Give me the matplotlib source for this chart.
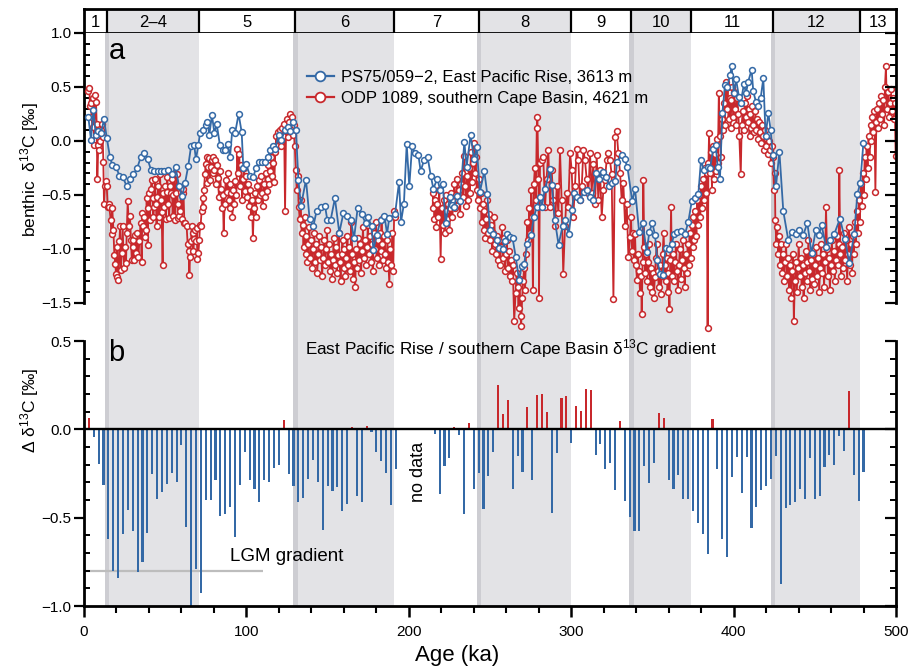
import numpy as np
import matplotlib
matplotlib.use('Agg')
import matplotlib.pyplot as plt
from matplotlib.ticker import FixedLocator, FuncFormatter

plt.rcParams['font.family'] = ['Liberation Sans', 'DejaVu Sans']
plt.rcParams['mathtext.fontset'] = 'custom'
plt.rcParams['mathtext.rm'] = 'Liberation Sans'
plt.rcParams['mathtext.it'] = 'Liberation Sans:italic'

# Marine isotope stages (boundaries in ka)
stage_bounds = [0, 14, 71, 130, 191, 243, 300, 337, 374, 424, 478, 500]
stage_labels = ['1', '2\u20134', '5', '6', '7', '8', '9', '10', '11', '12', '13']
glacial_stages = ['2\u20134', '6', '8', '10', '12']

# PS75/059-2, East Pacific Rise (blue)
blue_age = [2.7, 4.3, 5.8, 7.2, 8.8, 10.5, 12.3, 14.0, 16.0, 17.4,
            19.7, 21.8, 23.8, 26.3, 28.3, 30.4, 32.8, 34.9, 36.9, 39.2,
            41.3, 43.3, 45.4, 47.4, 49.5, 51.5, 54.4, 56.4, 58.5, 60.5,
            62.2, 64.2, 65.9, 67.9, 68.9, 70.4, 71.4, 73.1, 74.9, 75.9,
            77.2, 78.8, 80.3, 81.7, 83.7, 85.4, 86.8, 88.5, 89.9, 91.3,
            93.0, 95.2, 97.1, 98.1, 99.7, 102.2, 104.3, 105.9, 107.8, 109.8,
            111.7, 113.5, 114.5, 116.6, 117.8, 119.9, 121.5, 123.8, 125.6, 126.8,
            128.5, 130.5, 132.0, 133.6, 136.7, 138.9, 141.2, 143.2, 145.7, 148.4,
            149.8, 151.9, 154.5, 157.2, 159.7, 161.7, 164.2, 166.3, 168.5, 171.0,
            173.4, 174.7, 177.1, 178.2, 180.2, 182.7, 185.0, 186.6, 188.0, 191.5,
            194.0, 195.2, 197.0, 198.7, 200.3, 202.0, 203.8, 205.9, 207.3, 209.3,
            211.6, 213.5, 215.1, 217.6, 219.2, 220.9, 222.7, 225.3, 226.4, 227.8,
            229.5, 231.5, 234.2, 235.6, 238.1, 240.1, 241.8, 243.8, 246.5, 248.3,
            250.0, 252.0, 254.1, 255.5, 257.8, 259.2, 260.6, 262.3, 263.9, 265.8,
            267.9, 269.5, 271.0, 273.0, 275.3, 277.1, 278.8, 280.8, 281.9, 283.9,
            287.0, 288.1, 289.9, 292.2, 294.7, 296.3, 298.4, 300.4, 301.8, 303.5,
            305.5, 307.6, 309.7, 311.8, 313.4, 315.5, 317.1, 319.4, 321.4, 323.5,
            325.1, 327.2, 328.2, 331.3, 332.9, 334.6, 337.6, 339.3, 341.8, 344.0,
            346.5, 348.1, 350.0, 351.6, 353.0, 354.7, 356.3, 358.2, 360.2, 361.9,
            363.5, 365.4, 367.6, 370.1, 372.1, 374.2, 376.2, 378.3, 379.9, 381.8,
            384.0, 385.5, 387.5, 389.0, 390.2, 391.6, 393.1, 394.7, 396.1, 397.8,
            398.8, 400.2, 401.5, 403.3, 404.3, 406.4, 407.6, 409.0, 411.1, 412.1,
            413.8, 415.2, 416.7, 418.3, 419.7, 421.4, 422.8, 424.1, 426.1, 428.2,
            430.6, 433.7, 435.8, 438.2, 440.3, 442.9, 445.4, 448.0, 450.7, 452.6,
            454.2, 456.9, 459.3, 462.0, 465.5, 468.6, 471.2, 474.3, 476.2, 478.0,
            479.9]
blue_d13c = [0.22, 0.01, 0.29, 0.06, 0.09, 0.07, 0.20, 0.03, -0.15, -0.22,
             -0.24, -0.32, -0.33, -0.42, -0.35, -0.31, -0.25, -0.15, -0.11, -0.17,
             -0.27, -0.28, -0.28, -0.28, -0.28, -0.27, -0.31, -0.24, -0.42, -0.51,
             -0.39, -0.23, -0.05, -0.04, -0.17, -0.04, 0.07, 0.10, 0.15, 0.18,
             0.06, 0.24, 0.07, 0.16, -0.04, -0.08, -0.08, -0.03, -0.15, 0.10,
             0.07, 0.25, 0.08, -0.25, -0.21, -0.32, -0.33, -0.25, -0.19, -0.19,
             -0.19, -0.15, -0.08, -0.05, -0.07, 0.06, 0.01, 0.10, 0.13, 0.09,
             0.18, 0.10, -0.36, -0.60, -0.36, -0.72, -0.79, -0.65, -0.61, -0.60,
             -0.73, -0.73, -0.53, -0.85, -0.67, -0.69, -0.73, -0.90, -0.62, -0.68,
             -0.76, -0.70, -0.79, -1.01, -0.87, -0.73, -0.69, -0.86, -0.71, -0.68,
             -0.38, -0.75, -0.58, -0.03, -0.42, -0.05, -0.11, -0.13, -0.28, -0.18,
             -0.15, -0.32, -0.44, -0.35, -0.45, -0.40, -0.76, -0.52, -0.59, -0.61,
             -0.51, -0.56, -0.01, -0.24, 0.06, -0.17, -0.06, -0.47, -0.28, -0.49,
             -0.82, -0.86, -0.92, -0.99, -1.00, -0.93, -0.86, -0.89, -0.90, -1.07,
             -1.29, -1.16, -1.14, -0.95, -0.87, -0.70, -0.61, -0.52, -0.61, -0.44,
             -0.26, -0.41, -0.73, -0.96, -0.79, -0.73, -0.86, -0.64, -0.48, -0.52,
             -0.55, -0.47, -0.45, -0.52, -0.55, -0.30, -0.35, -0.29, -0.33, -0.42,
             -0.39, -0.37, -0.19, -0.13, -0.17, -0.24, -0.56, -0.44, -0.84, -0.76,
             -1.03, -0.84, -0.76, -0.87, -1.10, -1.23, -1.24, -0.99, -1.00, -0.95,
             -0.86, -0.84, -0.83, -0.86, -0.75, -0.56, -0.53, -0.49, -0.18, -0.27,
             -0.24, -0.25, -0.07, -0.04, -0.24, -0.35, 0.26, 0.52, 0.50, 0.61,
             0.69, 0.44, 0.57, 0.41, 0.35, 0.53, 0.44, 0.55, 0.66, 0.46,
             0.36, 0.32, 0.40, 0.58, 0.05, 0.26, 0.10, -0.13, -0.42, -0.10,
             -0.65, -0.92, -0.84, -0.86, -0.82, -0.87, -0.76, -1.04, -0.82, -0.87,
             -0.78, -0.98, -0.92, -0.86, -0.72, -0.91, -1.13, -0.86, -0.49, -0.39,
             -0.02]

# ODP 1089, southern Cape Basin (red)
red_age = [2.7, 3.3, 3.7, 4.1, 4.7, 5.3, 5.8, 6.2, 6.8, 7.4,
           7.8, 8.2, 8.8, 9.4, 9.9, 10.4, 10.9, 11.5, 11.9, 12.3,
           12.9, 13.3, 14.0, 14.6, 15.2, 15.6, 16.4, 17.0, 17.4, 18.1,
           18.7, 19.3, 19.7, 20.1, 20.5, 21.1, 21.8, 22.2, 22.6, 23.2,
           23.8, 24.6, 25.2, 25.9, 26.3, 26.9, 27.7, 28.3, 28.9, 29.4,
           30.0, 30.4, 31.0, 31.4, 32.0, 32.8, 33.5, 34.1, 34.9, 35.5,
           35.9, 36.5, 37.2, 37.6, 38.2, 38.6, 39.2, 39.6, 40.2, 40.6,
           41.1, 41.7, 42.3, 42.7, 43.1, 43.7, 44.3, 44.7, 45.2, 45.8,
           46.4, 46.8, 47.4, 47.8, 48.4, 48.9, 49.5, 49.9, 50.5, 50.9,
           51.3, 51.9, 52.5, 52.9, 53.4, 54.0, 54.6, 55.0, 55.6, 56.2,
           56.6, 57.1, 57.7, 58.1, 58.7, 59.1, 59.7, 60.3, 60.7, 61.2,
           61.8, 62.4, 63.2, 63.8, 64.4, 64.9, 65.3, 65.9, 66.3, 66.9,
           67.3, 67.9, 68.6, 69.0, 69.4, 69.8, 70.4, 71.0, 71.4, 71.8,
           72.4, 73.1, 73.5, 73.9, 74.5, 74.9, 75.5, 75.9, 76.6, 77.2,
           77.6, 78.2, 78.6, 79.2, 79.6, 80.3, 80.7, 81.3, 81.9, 82.5,
           83.1, 83.7, 84.3, 84.9, 85.5, 86.0, 86.6, 87.2, 87.8, 88.4,
           89.0, 89.6, 90.2, 90.8, 91.4, 92.0, 92.6, 93.2, 93.8, 94.4,
           95.0, 95.6, 96.2, 96.8, 97.4, 98.0, 98.6, 99.2, 99.8, 100.4,
           101.0, 101.6, 102.2, 102.8, 103.4, 104.0, 104.6, 105.2, 105.8, 106.4,
           107.0, 107.6, 108.2, 108.8, 109.4, 110.0, 110.6, 111.2, 111.8, 112.4,
           113.0, 113.6, 114.2, 114.8, 115.4, 116.0, 116.6, 117.2, 117.8, 118.4,
           119.0, 119.6, 120.2, 120.8, 121.4, 122.0, 122.6, 123.2, 123.8, 124.4,
           125.0, 125.6, 126.2, 126.8, 127.4, 128.0, 128.6, 129.2, 129.8, 130.4,
           131.0, 131.6, 132.2, 132.8, 133.4, 134.0, 134.6, 135.2, 135.8, 136.4,
           137.0, 137.6, 138.2, 138.8, 139.4, 140.0, 140.6, 141.2, 141.8, 142.4,
           143.0, 143.6, 144.2, 144.8, 145.4, 146.0, 146.6, 147.2, 147.8, 148.4,
           149.0, 149.6, 150.2, 150.8, 151.4, 152.0, 152.6, 153.2, 153.8, 154.4,
           155.0, 155.6, 156.2, 156.8, 157.4, 158.0, 158.6, 159.2, 159.8, 160.4,
           161.0, 161.6, 162.2, 162.8, 163.4, 164.0, 164.6, 165.2, 165.8, 166.4,
           167.0, 167.6, 168.2, 168.8, 169.4, 170.0, 170.6, 171.2, 171.8, 172.4,
           173.0, 173.6, 174.2, 174.8, 175.4, 176.0, 176.6, 177.2, 177.8, 178.4,
           179.0, 179.6, 180.2, 180.8, 181.4, 182.0, 182.6, 183.2, 183.8, 184.4,
           185.0, 185.6, 186.2, 186.8, 187.4, 188.0, 188.6, 189.2, 189.8, 190.4,
           191.0, 191.6, 214.6, 215.2, 215.8, 216.4, 217.0, 217.6, 218.2, 218.8,
           219.6, 220.2, 220.8, 221.4, 222.0, 222.6, 223.2, 223.8, 224.4, 225.0,
           225.6, 226.2, 226.8, 227.4, 228.0, 228.6, 229.2, 229.8, 230.4, 231.0,
           231.6, 232.2, 232.8, 233.4, 234.0, 234.6, 235.2, 235.8, 236.4, 237.0,
           237.6, 238.2, 238.8, 239.4, 240.0, 240.6, 241.2, 241.8, 242.4, 243.0,
           243.6, 244.2, 244.8, 245.4, 246.0, 246.6, 247.2, 247.8, 248.4, 249.0,
           249.6, 250.2, 250.8, 251.4, 252.0, 252.6, 253.2, 253.8, 254.4, 255.0,
           255.6, 256.2, 256.8, 257.4, 258.0, 258.6, 259.2, 259.8, 260.4, 261.0,
           261.6, 262.2, 262.8, 263.4, 264.0, 264.9, 265.8, 266.4, 267.0, 267.6,
           268.2, 268.8, 269.2, 269.8, 270.4, 271.0, 271.6, 272.2, 273.0, 273.6,
           274.2, 274.8, 275.4, 276.0, 276.4, 277.0, 277.6, 278.2, 278.8, 279.2,
           279.8, 280.2, 280.8, 281.8, 282.8, 283.9, 284.9, 285.9, 287.0, 288.0,
           289.0, 290.0, 291.1, 292.1, 293.1, 294.1, 295.1, 296.2, 297.2, 298.2,
           299.3, 300.3, 301.3, 302.3, 303.4, 304.4, 305.4, 306.5, 307.5, 308.5,
           309.5, 310.6, 311.6, 312.6, 313.6, 314.7, 315.7, 316.7, 317.7, 318.8,
           319.8, 320.8, 321.8, 322.9, 323.9, 324.9, 326.0, 327.0, 328.0, 329.0,
           330.1, 331.1, 332.1, 333.2, 334.2, 335.2, 336.2, 336.8, 337.4, 338.0,
           338.6, 339.3, 339.9, 340.5, 341.1, 341.7, 342.4, 343.0, 343.4, 344.0,
           344.4, 345.0, 345.5, 346.1, 346.7, 347.3, 347.9, 348.5, 349.1, 349.7,
           350.3, 350.9, 351.5, 352.1, 352.7, 353.3, 353.9, 354.5, 355.1, 355.7,
           356.3, 356.9, 357.5, 358.1, 358.7, 359.3, 359.9, 360.5, 361.0, 361.5,
           362.1, 362.7, 363.3, 363.9, 364.5, 365.1, 365.7, 366.3, 366.9, 367.5,
           368.1, 368.7, 369.3, 369.9, 370.5, 371.1, 371.7, 372.3, 372.9, 373.5,
           374.1, 374.7, 375.3, 375.9, 376.5, 377.1, 377.7, 378.3, 378.9, 379.5,
           380.1, 380.7, 381.3, 381.9, 382.5, 383.1, 383.5, 384.0, 384.5, 384.9,
           385.5, 386.1, 386.7, 387.3, 387.9, 388.5, 389.1, 389.7, 390.3, 390.9,
           391.5, 392.1, 392.7, 393.3, 393.9, 394.5, 395.1, 395.7, 396.3, 396.9,
           397.5, 398.1, 398.7, 399.3, 399.9, 400.5, 401.1, 401.7, 402.3, 402.9,
           403.5, 404.4, 405.0, 405.6, 406.2, 406.8, 407.4, 408.0, 408.6, 409.2,
           409.8, 410.4, 411.0, 411.6, 412.2, 412.8, 413.4, 414.0, 414.6, 415.2,
           415.8, 416.4, 417.0, 417.6, 418.2, 418.8, 419.4, 420.0, 420.6, 421.2,
           421.8, 422.4, 423.0, 423.6, 424.2, 424.8, 425.4, 425.7, 426.3, 426.9,
           427.5, 428.1, 428.7, 429.3, 429.9, 430.5, 431.1, 431.7, 432.3, 432.9,
           433.5, 434.1, 434.7, 435.3, 435.9, 436.5, 437.1, 437.7, 438.3, 438.9,
           439.5, 440.1, 440.7, 441.3, 441.9, 442.5, 443.1, 443.7, 444.3, 444.9,
           445.5, 446.1, 446.7, 447.3, 447.9, 448.5, 449.1, 449.7, 450.3, 450.9,
           451.5, 452.1, 452.7, 453.3, 453.9, 454.5, 455.1, 455.7, 456.3, 456.9,
           457.5, 458.1, 458.7, 459.3, 459.9, 460.5, 461.1, 461.7, 462.3, 462.9,
           463.5, 464.1, 464.7, 465.1, 465.7, 466.3, 466.9, 467.5, 468.1, 468.7,
           469.3, 469.9, 470.5, 471.1, 471.7, 472.3, 472.9, 473.5, 474.1, 474.7,
           475.3, 475.9, 476.5, 477.1, 477.7, 478.3, 478.9, 479.5, 480.1, 480.7,
           481.3, 481.9, 482.5, 483.1, 483.7, 484.3, 484.9, 485.5, 486.1, 486.7,
           487.3, 487.9, 488.5, 489.1, 489.7, 490.3, 490.9, 491.5, 492.1, 492.7,
           493.2, 493.8, 494.4, 495.0, 495.6, 496.2, 496.8, 497.4, 498.0, 498.6,
           499.2, 499.8]
red_d13c = [0.46, 0.49, 0.32, 0.35, 0.22, 0.13, 0.40, -0.04, 0.43, 0.36,
            0.16, -0.35, -0.04, -0.08, 0.00, 0.10, 0.16, 0.04, -0.19, -0.58,
            -0.42, -0.37, -0.42, -0.61, -0.58, -0.61, -0.73, -0.86, -0.62, -0.82,
            -1.06, -1.14, -1.23, -0.98, -1.26, -1.29, -0.93, -0.79, -1.19, -1.04,
            -0.79, -1.18, -0.98, -1.13, -0.85, -0.56, -0.79, -0.69, -0.92, -1.10,
            -0.98, -0.92, -1.10, -0.87, -1.04, -0.85, -1.07, -0.93, -0.76, -1.12,
            -0.67, -0.79, -0.70, -0.89, -0.82, -0.53, -0.96, -0.62, -0.48, -0.73,
            -0.44, -0.36, -0.53, -0.70, -0.61, -0.35, -0.58, -0.79, -0.52, -0.42,
            -0.70, -0.31, -0.55, -0.66, -1.15, -0.48, -0.61, -0.42, -0.72, -0.47,
            -0.33, -0.58, -0.71, -0.42, -0.48, -0.35, -0.69, -0.50, -0.31, -0.73,
            -0.48, -0.31, -0.58, -0.71, -0.69, -0.65, -0.47, -0.72, -0.48, -0.44,
            -0.76, -0.76, -0.79, -0.95, -1.02, -1.24, -1.07, -0.93, -0.79, -0.85,
            -1.02, -0.91, -0.82, -0.93, -0.81, -1.09, -1.04, -0.92, -0.78, -0.79,
            -0.65, -0.53, -0.61, -0.45, -0.31, -0.21, -0.15, -0.39, -0.24, -0.16,
            -0.36, -0.24, -0.18, -0.30, -0.15, -0.27, -0.18, -0.40, -0.22, -0.34,
            -0.52, -0.28, -0.44, -0.62, -0.50, -0.85, -0.58, -0.36, -0.47, -0.30,
            -0.55, -0.40, -0.62, -0.48, -0.70, -0.45, -0.58, -0.37, -0.50, -0.07,
            -0.30, -0.12, -0.42, -0.22, -0.55, -0.35, -0.25, -0.46, -0.32, -0.52,
            -0.40, -0.60, -0.45, -0.70, -0.55, -0.90, -0.62, -0.48, -0.70, -0.42,
            -0.55, -0.36, -0.50, -0.32, -0.48, -0.60, -0.40, -0.52, -0.30, -0.46,
            -0.35, -0.22, -0.40, -0.28, -0.15, -0.32, -0.20, -0.38, -0.10, 0.05,
            -0.05, 0.08, 0.02, 0.10, -0.05, 0.12, 0.05, 0.16, -0.65, 0.10,
            0.20, 0.04, 0.18, 0.25, 0.12, 0.22, 0.06, 0.15, -0.05, -0.27,
            -0.45, -0.32, -0.61, -0.72, -0.55, -0.85, -0.78, -0.98, -0.70, -1.05,
            -0.88, -1.12, -0.95, -0.80, -1.08, -0.92, -1.18, -1.00, -0.85, -1.12,
            -0.95, -1.22, -1.05, -0.88, -1.10, -0.98, -1.25, -1.08, -0.92, -1.15,
            -1.00, -0.82, -1.12, -0.95, -1.20, -1.05, -1.28, -1.10, -0.90, -1.15,
            -0.98, -1.22, -1.06, -0.85, -1.12, -1.30, -1.05, -0.92, -1.18, -1.00,
            -1.25, -1.08, -0.88, -1.15, -0.98, -1.20, -0.75, -1.05, -1.28, -1.12,
            -1.35, -1.00, -1.18, -0.90, -1.10, -0.95, -1.22, -1.02, -0.80, -1.08,
            -0.92, -1.15, -0.98, -0.78, -1.05, -0.88, -1.12, -0.95, -1.20, -0.85,
            -1.00, -0.75, -1.08, -0.92, -1.15, -0.85, -1.02, -0.72, -0.95, -1.10,
            -0.88, -1.05, -1.18, -0.92, -1.12, -1.32, -1.00, -1.15, -0.85, -1.20,
            -0.65, -0.70, -0.62, -0.48, -0.72, -0.55, -0.80, -0.58, -0.70, -0.45,
            -1.09, -0.62, -0.78, -0.55, -0.85, -0.65, -0.50, -0.72, -0.58, -0.82,
            -0.62, -0.48, -0.70, -0.56, -0.40, -0.62, -0.50, -0.35, -0.55, -0.45,
            -0.68, -0.40, -0.30, -0.52, -0.14, -0.42, -0.60, -0.32, -0.55, -0.25,
            -0.48, -0.10, -0.38, -0.20, -0.02, -0.30, -0.15, -0.45, -0.55, -0.35,
            -0.62, -0.48, -0.75, -0.58, -0.82, -0.65, -0.90, -0.72, -0.55, -0.85,
            -0.68, -0.92, -0.78, -1.02, -0.85, -0.70, -0.95, -1.05, -0.88, -1.10,
            -0.92, -1.15, -0.98, -0.80, -1.08, -0.90, -1.20, -1.05, -0.92, -1.18,
            -1.02, -1.25, -1.10, -1.30, -1.15, -1.67, -1.41, -1.22, -1.35, -1.55,
            -1.28, -1.62, -1.71, -1.45, -1.30, -1.18, -1.38, -1.05, -0.75, -0.92,
            -0.62, -0.85, -0.45, -0.70, -1.38, -0.40, -0.25, -0.55, 0.12, 0.22,
            -0.35, -1.45, -0.20, -0.18, -0.15, -0.61, -0.35, -0.08, -0.61, -0.27,
            -0.55, -0.79, -0.42, -0.67, -0.08, -0.55, -1.23, -0.79, -0.48, -0.61,
            -0.11, -0.27, -0.70, -0.42, -0.07, -0.18, -0.55, -0.42, -0.08, -0.18,
            -0.35, -0.48, -0.11, -0.48, -0.21, -0.58, -0.13, -0.55, -0.27, -0.70,
            -0.45, -0.36, -0.18, -0.11, -0.18, -0.31, -1.46, 0.04, 0.09, -0.11,
            -0.30, -0.55, -0.39, -0.79, -0.58, -1.07, -0.89, -0.70, -1.02, -0.85,
            -1.10, -0.86, -1.15, -1.29, -1.05, -1.20, -1.41, -1.25, -1.60, -1.12,
            -0.36, -0.98, -1.22, -1.05, -1.30, -1.12, -0.95, -1.35, -1.18, -1.40,
            -1.22, -1.45, -1.26, -1.08, -0.95, -1.20, -1.35, -1.15, -1.42, -1.25,
            -1.05, -0.85, -1.15, -1.30, -1.08, -1.40, -1.22, -1.56, -1.10, -0.61,
            -1.25, -1.05, -1.30, -1.12, -0.95, -1.20, -1.38, -1.15, -1.00, -1.28,
            -1.10, -0.92, -1.18, -1.35, -1.05, -1.22, -0.95, -1.15, -0.85, -1.08,
            -0.78, -0.98, -0.70, -0.92, -0.65, -0.88, -0.55, -0.78, -0.50, -0.70,
            -0.42, -0.62, -0.35, -0.55, -0.25, -0.48, -0.30, -1.73, -0.20, 0.07,
            -0.30, -0.10, -0.45, -0.05, -0.35, -0.12, -0.28, 0.02, -0.20, 0.44,
            0.05, -0.15, 0.20, 0.10, 0.35, 0.15, 0.55, 0.30, 0.50, 0.20,
            0.40, 0.12, 0.38, 0.50, 0.22, 0.45, 0.30, 0.15, 0.40, 0.25,
            0.05, -0.31, 0.15, 0.28, 0.10, 0.35, 0.22, 0.42, 0.18, 0.30,
            0.05, 0.25, 0.12, 0.32, 0.15, 0.08, 0.28, 0.10, 0.20, 0.02,
            0.18, 0.08, -0.02, 0.15, 0.05, -0.08, 0.10, -0.05, 0.02, -0.12,
            0.00, -0.08, -0.20, -0.05, -0.15, -0.45, -0.30, -0.73, -0.95, -0.80,
            -1.05, -0.88, -1.15, -0.95, -1.22, -1.05, -1.30, -1.12, -0.95, -1.25,
            -1.08, -1.38, -1.15, -1.45, -1.20, -1.05, -1.67, -1.30, -1.12, -1.40,
            -1.18, -0.95, -1.25, -1.08, -1.35, -1.15, -1.45, -1.22, -1.02, -1.30,
            -1.12, -0.92, -1.20, -1.38, -1.10, -1.28, -1.05, -1.32, -1.15, -0.98,
            -1.25, -1.08, -1.40, -1.18, -0.95, -1.22, -1.05, -1.35, -1.12, -0.61,
            -1.00, -1.25, -1.08, -1.38, -1.15, -0.92, -1.20, -1.02, -1.30, -1.10,
            -0.88, -1.15, -0.95, -0.27, -1.05, -1.25, -0.98, -1.18, -0.85, -1.10,
            -0.92, -1.30, -1.05, -0.80, -1.15, -0.95, -1.22, -0.88, -1.05, -0.75,
            -0.95, -0.65, -0.85, -0.55, -0.75, -0.40, -0.60, -0.30, -0.50, -0.15,
            -0.35, -0.05, -0.25, 0.05, -0.15, 0.15, 0.00, 0.22, 0.08, 0.28,
            -0.47, 0.18, 0.30, 0.12, 0.35, 0.20, 0.42, 0.25, 0.38, 0.15,
            0.50, 0.69, 0.30, 0.45, 0.22, 0.35, 0.48, 0.28, 0.40, 0.20,
            0.35, -0.14]
assert len(red_age) == len(red_d13c), (len(red_age), len(red_d13c))
assert len(blue_age) == len(blue_d13c), (len(blue_age), len(blue_d13c))

# East Pacific Rise minus Cape Basin gradient (3 ka bins)
grad_age = [3, 6, 9, 12, 15, 18, 21, 24, 27, 30, 33, 36, 39, 42, 45, 48, 51, 54, 57, 60,
            63, 66, 69, 72, 75, 78, 81, 84, 87, 90, 93, 96, 99, 102, 105, 108, 111, 114, 117, 120,
            123, 126, 129, 132, 135, 138, 141, 144, 147, 150, 153, 156, 159, 162, 165, 168, 171, 174, 177, 180,
            183, 186, 189, 192, 216, 219, 222, 225, 228, 231, 234, 237, 240, 243, 246, 249, 252, 255, 258, 261,
            264, 267, 270, 273, 276, 279, 282, 285, 288, 291, 294, 297, 300, 303, 306, 309, 312, 315, 318, 321,
            324, 327, 330, 333, 336, 339, 342, 345, 348, 351, 354, 357, 360, 363, 366, 369, 372, 375, 378, 381,
            384, 387, 390, 393, 396, 399, 402, 405, 408, 411, 414, 417, 420, 423, 426, 429, 432, 435, 438, 441,
            444, 447, 450, 453, 456, 459, 462, 465, 468, 471, 474, 477, 480]
grad_val = [0.066, -0.041, -0.196, -0.315, -0.62, -0.80, -0.84, -0.59, -0.456, -0.578,
            -0.81, -0.753, -0.588, -0.252, -0.394, -0.352, -0.309, -0.245, -0.296, -0.089,
            -0.55, -1.0, -0.79, -0.927, -0.40, -0.40, -0.286, -0.488, -0.48, -0.437,
            -0.61, -0.315, -0.126, -0.286, -0.337, -0.409, -0.286, -0.296, -0.22, -0.20,
            0.053, -0.252, -0.318, -0.409, -0.39, -0.279, -0.173, -0.296, -0.569, -0.318,
            -0.347, -0.328, -0.46, -0.42, 0.011, -0.375, -0.409, 0.019, -0.017, -0.13,
            -0.18, -0.245, -0.43, -0.222, -0.024, -0.365, -0.21, -0.16, 0.011, -0.032,
            -0.48, 0.034, -0.335, -0.245, -0.45, -0.262, -0.126, 0.25, 0.087, 0.166,
            -0.335, -0.149, -0.239, 0.124, -0.286, 0.194, 0.20, 0.098, -0.476, -0.132,
            0.177, 0.188, -0.075, 0.132, 0.104, 0.228, 0.222, -0.143, -0.081, -0.222,
            -0.19, -0.341, 0.047, -0.403, -0.499, -0.578, -0.578, -0.205, -0.301, -0.188,
            0.09, 0.064, -0.284, -0.335, -0.256, -0.397, -0.397, -0.465, -0.533, -0.595,
            -0.708, 0.058, -0.222, -0.618, -0.725, -0.267, -0.154, -0.358, -0.154, -0.561,
            -0.437, -0.341, -0.322, -0.279, -0.149, -0.878, -0.448, -0.431, -0.409, -0.335,
            -0.392, -0.16, -0.397, -0.375, -0.211, -0.143, -0.20, -0.036, -0.12, 0.217,
            -0.256, -0.403, -0.239]
assert len(grad_age) == len(grad_val), (len(grad_age), len(grad_val))
lgm_gradient = -0.80
lgm_span = (0, 110)

blue = '#3469a6'
red = '#c8282c'
shade = '#e3e3e6'
shade_dark = '#cdcdd2'

fig = plt.figure(figsize=(9.14, 6.66), dpi=100)
L, W = 84 / 914, 812 / 914
ax_s = fig.add_axes([L, 1 - 33 / 666, W, 24 / 666])
ax_a = fig.add_axes([L, 1 - 341 / 666, W, 308 / 666])
ax_b = fig.add_axes([L, 1 - 606 / 666, W, 265 / 666])

# stage bar
for lo, hi, lab in zip(stage_bounds[:-1], stage_bounds[1:], stage_labels):
    if lab in glacial_stages:
        ax_s.axvspan(lo, hi, color=shade, lw=0)
    ax_s.text((lo + hi) / 2, 0.45, lab, ha='center', va='center', fontsize=12)
for b in stage_bounds[1:-1]:
    ax_s.axvline(b, color='k', lw=1.6)
ax_s.set_xlim(0, 500)
ax_s.set_ylim(0, 1)
ax_s.set_xticks([])
ax_s.set_yticks([])
for sp in ax_s.spines.values():
    sp.set_linewidth(2)

# glacial shading in both panels
for ax in (ax_a, ax_b):
    for lo, hi, lab in zip(stage_bounds[:-1], stage_bounds[1:], stage_labels):
        if lab in glacial_stages:
            ax.axvspan(lo, hi, color=shade, lw=0, zorder=0)
            ax.axvspan(lo - 1.2, lo + 1.5, color=shade_dark, lw=0, zorder=0)
    ax.set_xlim(0, 500)


def fmt(x, pos):
    return ('%.1f' % x).replace('-', '\u2212')


def style_y(ax, lo, hi):
    ax.set_ylim(*ax.get_ylim())
    ax.yaxis.set_major_locator(FixedLocator(np.arange(lo, hi + 0.01, 0.5)))
    ax.yaxis.set_minor_locator(FixedLocator(np.arange(lo, hi + 0.01, 0.1)))
    ax.yaxis.set_major_formatter(FuncFormatter(fmt))
    ax.tick_params(axis='y', which='major', direction='out', length=7, width=1.6,
                   labelsize=11, pad=2)
    ax.tick_params(axis='y', which='minor', direction='in', length=4, width=1.4)
    ax.spines['left'].set_bounds(lo, hi)
    ax.spines['left'].set_linewidth(2)
    ax.spines['right'].set_visible(False)
    ax.spines['top'].set_visible(False)
    tw = ax.twinx()
    tw.set_ylim(ax.get_ylim())
    tw.yaxis.set_major_locator(FixedLocator(np.arange(lo, hi + 0.01, 0.5)))
    tw.yaxis.set_minor_locator(FixedLocator(np.arange(lo, hi + 0.01, 0.1)))
    tw.tick_params(axis='y', which='major', direction='in', length=8, width=1.6, labelright=False)
    tw.tick_params(axis='y', which='minor', direction='in', length=4, width=1.4)
    for k in ('left', 'top', 'bottom'):
        tw.spines[k].set_visible(False)
    tw.spines['right'].set_bounds(lo, hi)
    tw.spines['right'].set_linewidth(2)
    return tw


# panel a
red_age_arr = np.array(red_age)
red_val_arr = np.array(red_d13c)
breaks = np.where(np.diff(red_age_arr) > 10)[0] + 1
for seg_a, seg_v in zip(np.split(red_age_arr, breaks), np.split(red_val_arr, breaks)):
    ax_a.plot(seg_a, seg_v, '-o', color=red, mfc='white', mec=red, ms=4.2, mew=1.1,
              lw=1.3, zorder=3)
ax_a.plot(blue_age, blue_d13c, '-o', color=blue, mfc='white', mec=blue, ms=4.2, mew=1.1,
          lw=1.3, zorder=4)
h_blue, = ax_a.plot([], [], '-o', color=blue, mfc='white', mec=blue, ms=7, mew=1.3, lw=1.6)
h_red, = ax_a.plot([], [], '-o', color=red, mfc='white', mec=red, ms=7, mew=1.3, lw=1.6)
ax_a.legend([h_blue, h_red], ['PS75/059\u22122, East Pacific Rise, 3613 m',
                              'ODP 1089, southern Cape Basin, 4621 m'],
            loc='upper left', bbox_to_anchor=(0.2746, 0.879), frameon=False,
            fontsize=12, handlelength=1.6, handletextpad=0.45, borderaxespad=0,
            borderpad=0, labelspacing=0.35)
ax_a.set_ylim(-1.852, 1.0)
ax_a.spines['bottom'].set_visible(False)
ax_a.tick_params(axis='x', which='both', bottom=False, labelbottom=False)
style_y(ax_a, -1.5, 1.0)
ax_a.text(15, 0.83, 'a', fontsize=21, ha='left', va='center')

# panel b
bar_colors = [red if v > 0 else blue for v in grad_val]
ax_b.bar(grad_age, grad_val, width=1.3, color=bar_colors, lw=0, zorder=2)
ax_b.axhline(0, color='k', lw=1.7, zorder=3)
ax_b.hlines(lgm_gradient, lgm_span[0], lgm_span[1], color='#bdbdbd', lw=1.6, zorder=1)
ax_b.text(90, -0.72, 'LGM gradient', fontsize=13.5, ha='left', va='center')
ax_b.text(206, -0.24, 'no data', fontsize=13, rotation=90, ha='center', va='center')
ax_b.text(263, 0.46, 'East Pacific Rise / southern Cape Basin \u03b4$^{13}$C gradient',
          fontsize=12.3, ha='center', va='center')
ax_b.text(15, 0.43, 'b', fontsize=21, ha='left', va='center')
ax_b.set_ylim(-1.0, 0.5)
ax_b.spines['top'].set_visible(False)
ax_b.spines['bottom'].set_linewidth(2)
ax_b.set_xticks([0, 100, 200, 300, 400, 500])
ax_b.set_xticks(np.arange(0, 501, 20), minor=True)
ax_b.tick_params(axis='x', which='major', direction='out', length=8, width=1.8, labelsize=11, pad=6)
ax_b.tick_params(axis='x', which='minor', direction='out', length=5, width=1.5)
style_y(ax_b, -1.0, 0.5)

fig.text(457 / 914, 1 - 655 / 666, 'Age (ka)', ha='center', va='center', fontsize=16)
fig.text(30 / 914, 1 - 170 / 666, 'benthic  \u03b4$^{13}$C [\u2030]', rotation=90,
         ha='center', va='center', fontsize=12.5)
fig.text(30 / 914, 1 - 410 / 666, '\u0394 \u03b4$^{13}$C [\u2030]', rotation=90,
         ha='center', va='center', fontsize=12.5)

fig.savefig('out.png', dpi=100)
